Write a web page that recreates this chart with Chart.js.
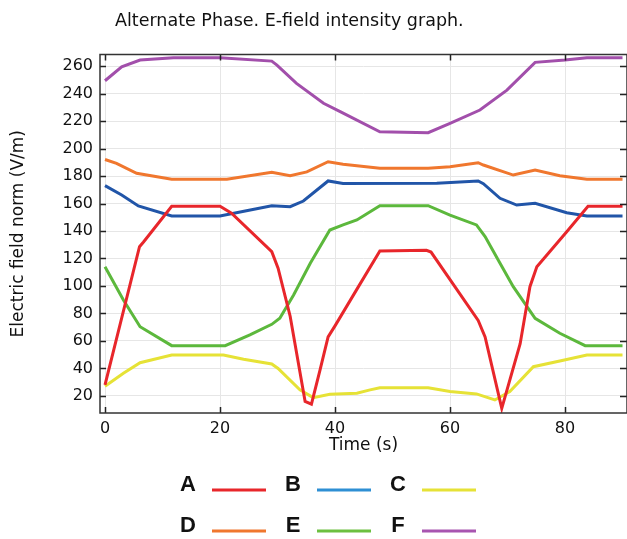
<!DOCTYPE html>
<html>
<head>
<meta charset="utf-8">
<script src="https://cdn.jsdelivr.net/npm/chart.js@4/dist/chart.umd.min.js"></script>
<style>
  html, body { margin: 0; padding: 0; background: #ffffff; }
  #wrap { width: 627px; height: 539px; position: relative; }
</style>
</head>
<body>
<div id="wrap"><canvas id="c" width="627" height="539"></canvas></div>
<script>
// ---- Data ----
const chartTitle = "Alternate Phase. E-field intensity graph.";
const xAxisTitle = "Time (s)";
const yAxisTitle = "Electric field norm (V/m)";
const seriesNames = ["A", "B", "C", "D", "E", "F"];

const timeA = [0, 6, 6.7, 11.6, 20, 22, 29, 30.1, 32.2, 34.8, 35.9, 37.4, 38.8, 40, 44, 47.8, 55.9, 56.7, 64.9, 66.1, 69, 72.2, 73.9, 75.1, 80.3, 84, 90];
const valuesA = [28, 128.6, 132, 158, 158, 153, 125, 113, 78, 16, 14, 39, 63, 71, 99, 125.5, 126, 124.7, 75, 63, 11, 58, 99.5, 114, 139.5, 158, 158];

const timeB = [0, 2.9, 5.8, 11.6, 20, 24.6, 29, 32.2, 34.5, 38.8, 41.4, 57.7, 64.9, 65.8, 68.7, 71.6, 74.8, 80.3, 83.8, 90];
const valuesB = [173, 166.2, 158.2, 151, 151, 154.8, 158.4, 157.7, 161.8, 176.4, 174.6, 174.7, 176.4, 174.4, 163.8, 158.9, 160.1, 153.3, 151, 151];

const timeC = [0, 3.2, 6.1, 11.6, 20.6, 24.1, 29, 30.1, 33.9, 36.2, 39.1, 43.8, 46.1, 47.8, 56.2, 60, 64.6, 67.8, 70.4, 74.5, 79.7, 83.8, 90];
const valuesC = [27, 36.5, 44.2, 49.8, 49.8, 46.7, 43.3, 40, 24.4, 18.8, 21.2, 22, 24.4, 26, 26, 23.2, 21.5, 17.1, 23.2, 41.3, 46, 49.8, 49.8];

const timeD = [0, 2, 5.5, 11.6, 21.2, 29, 32.2, 35.1, 38.8, 41.4, 47.8, 56.2, 60, 64.9, 65.8, 71, 74.8, 79.1, 83.8, 90];
const valuesD = [192, 189.2, 182, 177.6, 177.6, 182.7, 180.2, 183, 190.4, 188.5, 185.6, 185.6, 186.8, 189.7, 188, 180.7, 184.4, 180.2, 177.6, 177.6];

const timeE = [0, 3.2, 6.1, 11.6, 20.9, 25.2, 29, 30.4, 32.8, 35.7, 39.1, 41.4, 43.8, 47.8, 56.2, 60, 64.6, 66.1, 68.7, 71, 74.8, 79.1, 83.5, 90];
const valuesE = [114, 89.8, 70.4, 56.6, 56.6, 64.4, 72.1, 76.5, 93.5, 116.5, 140.7, 144.4, 148, 158.4, 158.4, 151.6, 144.4, 135.9, 116.5, 99.5, 76.5, 65.6, 56.6, 56.6];

const timeF = [0, 2.9, 6.1, 11.9, 20, 29, 29.9, 33.3, 38, 40.9, 47.8, 56.2, 60, 65.2, 69.9, 74.8, 80, 83.8, 90];
const valuesF = [249.3, 259.5, 264.4, 266, 266, 263.6, 260.7, 247.4, 232.9, 226.8, 212.2, 211.5, 218.3, 228, 242.5, 262.7, 264.4, 266, 266];

const xTickValues = [0, 20, 40, 60, 80];
const yTickValues = [20, 40, 60, 80, 100, 120, 140, 160, 180, 200, 220, 240, 260];

// ---- Styles ----
const lineColors = ["#e8262b", "#2155a8", "#e6e236", "#f0772e", "#5cb83c", "#a24fab"];
const legendColors = ["#e8262b", "#2e8fd4", "#e6e236", "#f0772e", "#6cc040", "#a855b0"];

const times = [timeA, timeB, timeC, timeD, timeE, timeF];
const values = [valuesA, valuesB, valuesC, valuesD, valuesE, valuesF];

const datasets = seriesNames.map((name, i) => ({
  label: name,
  data: times[i].map((t, k) => ({ x: t, y: values[i][k] })),
  borderColor: lineColors[i],
  backgroundColor: lineColors[i],
  borderWidth: 3,
  pointRadius: 0,
  tension: 0,
  fill: false
}));

const FONT = "'DejaVu Sans', sans-serif";

const framePlugin = {
  id: 'frame',
  afterDatasetsDraw(chart) {
    const { ctx, chartArea: a } = chart;
    const xs = chart.scales.x, ys = chart.scales.y;
    ctx.save();
    ctx.strokeStyle = '#222';
    ctx.lineWidth = 1.5;
    ctx.beginPath();
    xTickValues.forEach(v => {
      const px = Math.round(xs.getPixelForValue(v)) + 0.5;
      ctx.moveTo(px, a.bottom); ctx.lineTo(px, a.bottom - 6);
      ctx.moveTo(px, a.top); ctx.lineTo(px, a.top + 6);
    });
    yTickValues.forEach(v => {
      const py = Math.round(ys.getPixelForValue(v)) + 0.5;
      ctx.moveTo(a.left, py); ctx.lineTo(a.left + 6, py);
      ctx.moveTo(a.right, py); ctx.lineTo(a.right - 7, py);
    });
    ctx.stroke();
    ctx.strokeStyle = '#333';
    ctx.lineWidth = 1.5;
    ctx.strokeRect(a.left, a.top, a.right - a.left, a.bottom - a.top);
    ctx.restore();
  },
  afterDraw(chart) {
    const ctx = chart.ctx;
    ctx.save();
    ctx.fillStyle = '#111';
    ctx.font = "17.5px " + FONT;
    ctx.textAlign = 'left';
    ctx.textBaseline = 'middle';
    ctx.fillText(chartTitle, 115, 21);
    const colX = [188, 293, 398];
    const rowY = [485, 526];
    ctx.font = "bold 22px 'Liberation Sans', Arial, sans-serif";
    chart.data.datasets.forEach((ds, i) => {
      const cx = colX[i % 3], cy = rowY[Math.floor(i / 3)];
      ctx.fillStyle = '#111';
      ctx.textAlign = 'center';
      ctx.textBaseline = 'middle';
      ctx.fillText(ds.label, cx, cy);
      ctx.strokeStyle = legendColors[i];
      ctx.lineWidth = 3;
      ctx.beginPath();
      ctx.moveTo(cx + 24, cy + 5);
      ctx.lineTo(cx + 78, cy + 5);
      ctx.stroke();
    });
    ctx.restore();
  }
};

new Chart(document.getElementById('c'), {
  type: 'line',
  data: { datasets },
  plugins: [framePlugin],
  options: {
    responsive: false,
    animation: false,
    events: [],
    layout: { padding: { top: 54.5, left: 0, right: 0, bottom: 81 } },
    plugins: { legend: { display: false }, title: { display: false }, tooltip: { enabled: false } },
    scales: {
      x: {
        type: 'linear',
        min: -0.87,
        max: 90.78,
        afterFit(s) { s.height = 45; },
        afterBuildTicks(s) { s.ticks = xTickValues.map(v => ({ value: v })); },
        ticks: { includeBounds: false, padding: 6, color: '#111', font: { family: FONT, size: 16 }, maxRotation: 0 },
        grid: { color: '#e6e6e6', lineWidth: 1, drawTicks: false },
        border: { display: false },
        title: { display: true, text: xAxisTitle, color: '#111', font: { family: FONT, size: 17 }, padding: { top: 0, bottom: 2 } }
      },
      y: {
        type: 'linear',
        min: 7.6,
        max: 268.4,
        afterFit(s) { s.width = 100; },
        afterBuildTicks(s) { s.ticks = yTickValues.map(v => ({ value: v })); },
        ticks: { includeBounds: false, padding: 7, color: '#111', font: { family: FONT, size: 16 } },
        grid: { color: '#e6e6e6', lineWidth: 1, drawTicks: false },
        border: { display: false },
        title: { display: true, text: yAxisTitle, color: '#111', font: { family: FONT, size: 17 }, padding: { top: 8, bottom: 0 } }
      }
    }
  }
});
</script>
</body>
</html>
